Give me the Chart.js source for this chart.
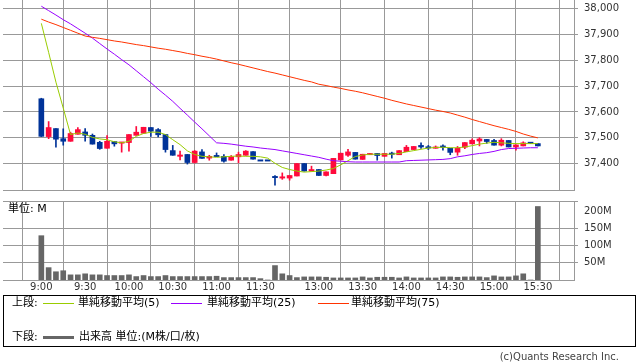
<!DOCTYPE html>
<html><head><meta charset="utf-8">
<script src="https://cdn.jsdelivr.net/npm/chart.js@4.4.1/dist/chart.umd.min.js"></script>
<style>
html,body{margin:0;padding:0;background:#fff;}
body{width:638px;height:362px;position:relative;overflow:hidden;font-family:"DejaVu Sans","Noto Sans CJK JP",sans-serif;}
#c1{position:absolute;left:0;top:0;}
#c2{position:absolute;left:0;top:195px;}
.t{position:absolute;white-space:nowrap;font-size:11px;color:#000;line-height:12px;}
#legend{position:absolute;left:3px;top:295px;width:631px;height:50px;border:1px solid #000;}
.ln{position:absolute;height:1px;}
</style></head><body>
<canvas id="c1" width="638" height="200"></canvas>
<canvas id="c2" width="638" height="100"></canvas>
<div class="t" style="left:8px;top:203px;">単位: M</div>
<div id="legend"></div>
<div class="t" style="left:12px;top:297px;">上段:</div>
<div class="ln" style="left:43px;top:303px;width:31px;background:#99cc00;"></div>
<div class="t" style="left:78px;top:297px;">単純移動平均(5)</div>
<div class="ln" style="left:171px;top:303px;width:31px;background:#9900ff;"></div>
<div class="t" style="left:207px;top:297px;">単純移動平均(25)</div>
<div class="ln" style="left:318px;top:303px;width:31px;background:#ff3300;"></div>
<div class="t" style="left:351px;top:297px;">単純移動平均(75)</div>
<div class="t" style="left:12px;top:331px;">下段:</div>
<div class="ln" style="left:43px;top:336px;width:31px;height:3px;background:#666;"></div>
<div class="t" style="left:79px;top:331px;">出来高 単位:(M株/口/枚)</div>
<div class="t" style="right:19px;top:351px;font-size:10px;color:#444;">(c)Quants Research Inc.</div>
<script>
// x slot index: 0 = 9:00 ... 30 = 11:30, 31 lunch placeholder, 32 = 12:30 ... 68 = 15:30
const tickIdx = [0,6,12,18,24,30,38,44,50,56,62,68];
const tickLabels = ['9:00','9:30','10:00','10:30','11:00','11:30','13:00','13:30','14:00','14:30','15:00','15:30'];
const priceTicks = [37400,37500,37600,37700,37800,37900,38000];
const volTicks = [50,100,150,200];

const open = [
37651,37505,37536,37497,37487,37514,37523,37510,37483,37460,
37486,37481,37482,37510,37518,37540,37532,37513,37451,37431,
37436,37405,37446,37422,37432,37429,37414,37427,37433,37447,
37413,37413,37351,37345,37345,37353,37401,37372,37378,37355,
37362,37415,37433,37444,37417,37435,37440,37429,37441,37435,
37447,37455,37471,37465,37460,37469,37460,37445,37464,37477,
37488,37494,37490,37472,37490,37465,37469,37481,37478];
const close = [
37506,37540,37495,37487,37517,37532,37510,37476,37459,37487,
37477,37483,37513,37522,37541,37526,37512,37455,37433,37432,
37405,37449,37421,37429,37428,37410,37427,37436,37449,37418,
37413,37413,37347,37350,37355,37401,37372,37378,37355,37369,
37421,37441,37446,37418,37437,37440,37432,37440,37437,37451,
37464,37467,37465,37462,37465,37463,37444,37460,37482,37491,
37496,37486,37472,37491,37465,37473,37481,37481,37469];
const high = [
37653,37563,37536,37535,37522,37540,37536,37515,37487,37509,
37486,37483,37513,37544,37541,37540,37536,37513,37471,37449,
37436,37451,37455,37433,37442,37436,37432,37445,37451,37447,
37413,37413,37355,37365,37355,37401,37401,37391,37378,37369,
37421,37441,37456,37444,37437,37440,37440,37440,37445,37451,
37471,37467,37481,37471,37469,37473,37460,37467,37482,37496,
37501,37494,37494,37497,37490,37473,37485,37481,37478];
const low = [
37505,37497,37464,37472,37487,37514,37487,37476,37456,37460,
37468,37445,37449,37510,37518,37506,37504,37445,37433,37415,
37399,37403,37421,37414,37428,37406,37414,37404,37433,37418,
37413,37413,37318,37340,37337,37353,37372,37372,37355,37353,
37362,37415,37429,37418,37417,37435,37414,37429,37422,37435,
37447,37455,37459,37455,37460,37453,37435,37433,37458,37477,
37469,37479,37472,37469,37465,37453,37469,37481,37469];
const volume = [
129,36,24,27,15,15,18,15,15,13,
13,13,15,10,13,10,10,13,10,10,
10,10,10,10,11,7,7,7,7,7,
4,0,42,18,13,7,9,9,9,8,
6,6,6,6,9,6,8,8,8,6,
9,6,6,6,6,9,9,8,9,9,
9,7,12,9,9,12,18,0,214];
const ma5 = [
37942,37830,37715,37615,37513,37519,37514,37502,37496,37493,
37485,37481,37487,37506,37517,37522,37522,37513,37493,37474,
37450,37436,37429,37427,37425,37427,37429,37430,37429,37429,
37427,37422,37402,37386,37378,37372,37368,37370,37372,37376,
37382,37396,37412,37428,37434,37437,37437,37437,37437,37440,
37446,37451,37456,37461,37463,37464,37462,37462,37465,37470,
37476,37480,37483,37481,37479,37478,37478,37478,37478];
const ma25 = [
38008,37991,37974,37956,37940,37922,37904,37885,37864,37843,
37823,37802,37782,37759,37736,37713,37688,37665,37641,37614,
37588,37561,37535,37508,37481,37479,37476,37472,37468,37465,
37461,37458,37455,37450,37445,37440,37435,37430,37425,37418,
37412,37410,37408,37407,37407,37407,37407,37407,37407,37407,
37412,37413,37414,37415,37416,37417,37420,37427,37431,37436,
37440,37443,37448,37455,37459,37460,37461,37462,37462];
const ma75 = [
37958,37947,37937,37926,37915,37904,37893,37888,37884,37879,
37874,37870,37865,37860,37856,37851,37846,37842,37837,37832,
37826,37821,37815,37810,37804,37797,37790,37784,37777,37770,
37763,37756,37750,37743,37736,37729,37722,37716,37707,37702,
37696,37691,37685,37680,37674,37667,37660,37653,37645,37638,
37631,37625,37619,37613,37607,37602,37596,37588,37580,37571,
37563,37555,37547,37540,37533,37525,37515,37507,37500];

const XMIN = -5.25, XMAX = 72.95;
const RED = '#ff0a3c', BLUE = '#003399', GRID = '#999999';
const idx = close.map((_, i) => i);
const colors = idx.map(i => close[i] > open[i] ? RED : BLUE);
const bodyData = idx.map(i => {
  let a = open[i], b = close[i];
  if (Math.abs(a - b) < 5) { const m = (a + b) / 2; a = m - 2.5; b = m + 2.5; }
  return {x: i, y: [a, b]};
});
const wickData = idx.map(i => ({x: i, y: [low[i], high[i]]}));
const pts = arr => arr.map((v, i) => ({x: i, y: v}));
const tickFont = {family: 'DejaVu Sans', size: 10};
const xTicks = s => { s.ticks = [XMIN, ...tickIdx].map(v => ({value: v})); };

new Chart(document.getElementById('c1'), {
  type: 'bar',
  data: {datasets: [
    {type: 'line', data: pts(ma75), borderColor: '#ff3300', borderWidth: 1, pointRadius: 0, order: 0},
    {type: 'line', data: pts(ma25), borderColor: '#9900ff', borderWidth: 1, pointRadius: 0, order: 0},
    {type: 'line', data: pts(ma5), borderColor: '#99cc00', borderWidth: 1, pointRadius: 0, order: 0},
    {type: 'bar', data: wickData, backgroundColor: colors, barThickness: 1, grouped: false, order: 2},
    {type: 'bar', data: bodyData, backgroundColor: colors, barThickness: 5, grouped: false, order: 1}
  ]},
  options: {
    responsive: false, animation: false, events: [],
    layout: {padding: {left: 3, top: 0, right: 0, bottom: 0}},
    plugins: {legend: {display: false}, tooltip: {enabled: false}},
    scales: {
      x: {type: 'linear', min: XMIN, max: XMAX, offset: false, afterBuildTicks: xTicks,
          ticks: {display: false}, grid: {color: GRID, drawTicks: false}, border: {color: GRID},
          afterFit: s => { s.height = 10; s.paddingLeft = 0; s.paddingRight = 0; }},
      y: {position: 'right', min: 37299, max: 38032,
          afterBuildTicks: s => { s.ticks = priceTicks.map(v => ({value: v})); },
          ticks: {font: tickFont, color: '#333', padding: 6, callback: v => v.toLocaleString('en-US')},
          grid: {color: GRID, tickLength: 4}, border: {color: GRID},
          afterFit: s => { s.width = 64; s.paddingTop = 0; s.paddingBottom = 0; }}
    }
  }
});

new Chart(document.getElementById('c2'), {
  type: 'bar',
  data: {datasets: [{data: pts(volume), backgroundColor: '#666666', barThickness: 5}]},
  options: {
    responsive: false, animation: false, events: [],
    layout: {padding: {left: 3, top: 6, right: 0, bottom: 0}},
    plugins: {legend: {display: false}, tooltip: {enabled: false}},
    scales: {
      x: {type: 'linear', min: XMIN, max: XMAX, offset: false, afterBuildTicks: xTicks,
          ticks: {font: tickFont, color: '#333', padding: 1, maxRotation: 0, autoSkip: false,
                  callback: v => { const k = tickIdx.indexOf(v); return k >= 0 ? tickLabels[k] : ''; }},
          grid: {color: GRID, drawTicks: false}, border: {color: GRID},
          afterFit: s => { s.height = 15; s.paddingLeft = 0; s.paddingRight = 0; }},
      y: {position: 'right', min: 0, max: 230,
          afterBuildTicks: s => { s.ticks = [...volTicks, 230].map(v => ({value: v})); },
          ticks: {font: tickFont, color: '#333', padding: 6, callback: v => volTicks.includes(v) ? v + 'M' : ''},
          grid: {color: c => (c.tick && c.tick.value === 200) ? 'rgba(0,0,0,0)' : GRID, tickLength: 4},
          border: {color: GRID},
          afterFit: s => { s.width = 64; s.paddingTop = 0; s.paddingBottom = 0; }}
    }
  }
});
</script>
</body></html>
